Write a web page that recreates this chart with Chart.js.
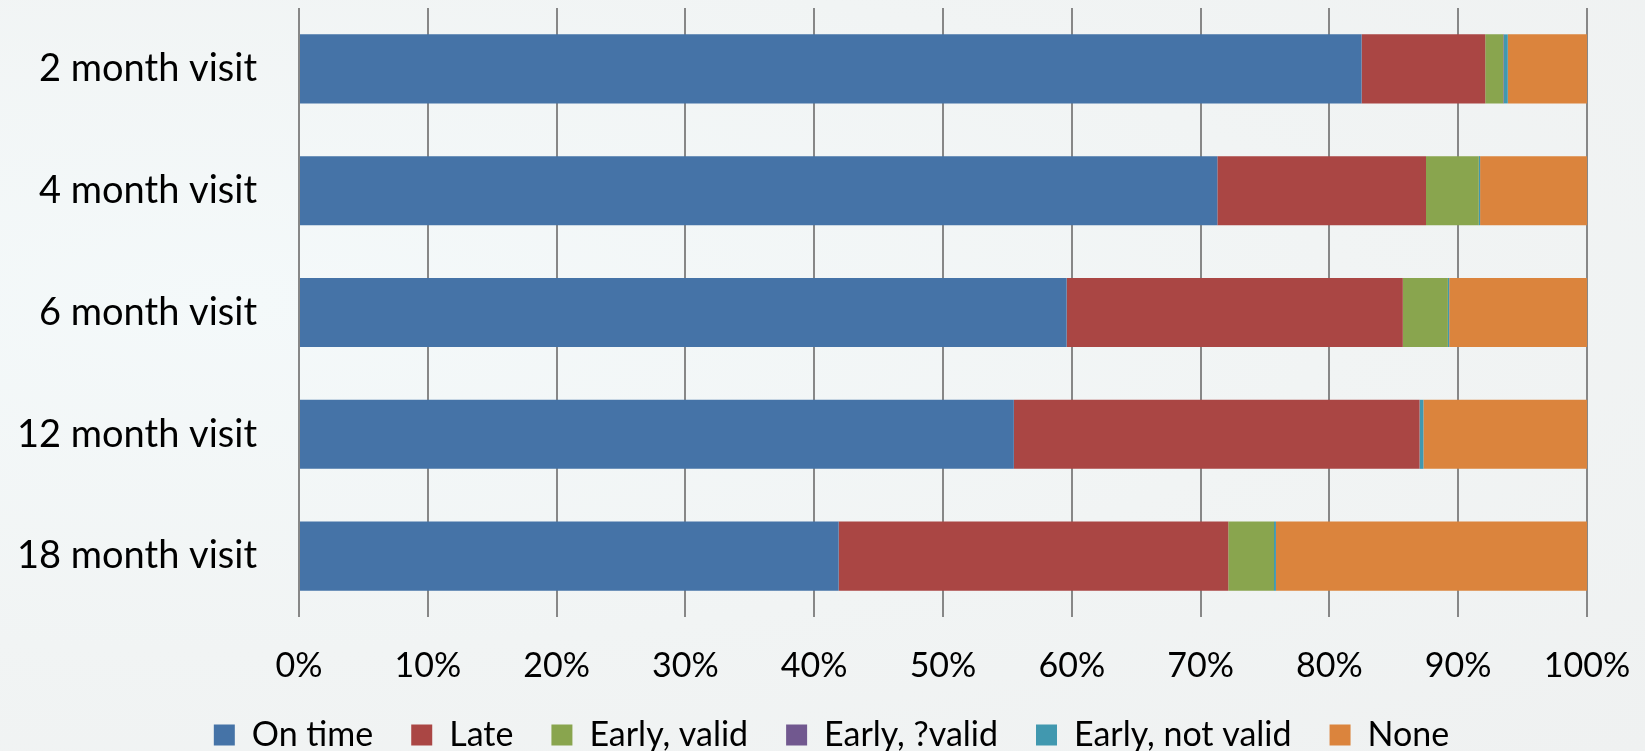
<!DOCTYPE html>
<html>
<head>
<meta charset="utf-8">
<script src="https://cdn.jsdelivr.net/npm/chart.js@4/dist/chart.umd.min.js"></script>
<style>
  html, body { margin: 0; padding: 0; }
  body {
    width: 1645px; height: 751px; overflow: hidden;
    background: radial-gradient(ellipse at 15% 40%, #f4f9fa 0%, #f1f4f4 55%, #eff1f1 100%);
  }
  #wrap { width: 1645px; height: 751px; }
</style>
</head>
<body>
<div id="wrap"><canvas id="visitChart"></canvas></div>
<script>
// Visit timing by well-child visit (% of children)
const visits = ["2 month visit", "4 month visit", "6 month visit", "12 month visit", "18 month visit"];

const onTime       = [82.5, 71.3, 59.6, 55.5, 41.9];
const late         = [9.6, 16.2, 26.1, 31.5, 30.25];
const earlyValid   = [1.4, 4.1, 3.5, 0, 3.55];
const earlyMaybe   = [0.05, 0, 0, 0, 0];
const earlyInvalid = [0.3, 0.1, 0.1, 0.3, 0.15];
const none         = [6.15, 8.3, 10.7, 12.7, 24.15];

const xTicks = [0, 10, 20, 30, 40, 50, 60, 70, 80, 90, 100];

const font = "Lato, 'Open Sans', sans-serif";
const LEFT_PAD = 76;   // shifts the centred legend to the right

function series(label, data, color) {
  return {
    label, data,
    backgroundColor: color,
    borderWidth: 0,
    categoryPercentage: 1,
    barPercentage: 0.567
  };
}

// axes are squeezed below, so let their labels draw outside the axis box
const noLabelClip = axis => { axis._computeLabelArea = () => undefined; };

const chart = new Chart(document.getElementById("visitChart"), {
  type: "bar",
  data: {
    labels: visits,
    datasets: [
      series("On time", onTime, "#4573a7"),
      series("Late", late, "#aa4644"),
      series("Early, valid", earlyValid, "#89a54e"),
      series("Early, ?valid", earlyMaybe, "#71588f"),
      series("Early, not valid", earlyInvalid, "#4198af"),
      series("None", none, "#db843d")
    ]
  },
  options: {
    indexAxis: "y",
    responsive: true,
    maintainAspectRatio: false,
    animation: false,
    layout: { padding: { top: 8, right: 58, left: LEFT_PAD, bottom: -11 } },
    plugins: {
      tooltip: { enabled: false },
      legend: {
        position: "bottom",
        labels: {
          font: { family: font, size: 34 },
          color: "#000",
          boxWidth: 21,
          boxHeight: 21,
          padding: 38
        }
      }
    },
    scales: {
      x: {
        stacked: true,
        min: 0, max: 100,
        afterBuildTicks: axis => { axis.ticks = xTicks.map(v => ({ value: v })); },
        afterFit: axis => {
          axis.height = 63;
          axis.paddingLeft = 0;
          axis.paddingRight = 0;
          noLabelClip(axis);
        },
        ticks: {
          callback: v => v + "%",
          font: { family: font, size: 34 },
          color: "#000",
          padding: 29,
          maxRotation: 0
        },
        grid: { color: "#878787", lineWidth: 2, drawTicks: false },
        border: { display: false }
      },
      y: {
        stacked: true,
        afterFit: axis => {
          axis.width = 299 - LEFT_PAD;
          axis.paddingTop = 0;
          axis.paddingBottom = 0;
          noLabelClip(axis);
        },
        ticks: {
          font: { family: font, size: 38 },
          color: "#000",
          padding: 42
        },
        grid: { display: false, drawTicks: false },
        border: { display: false }
      }
    }
  }
});
</script>
</body>
</html>
